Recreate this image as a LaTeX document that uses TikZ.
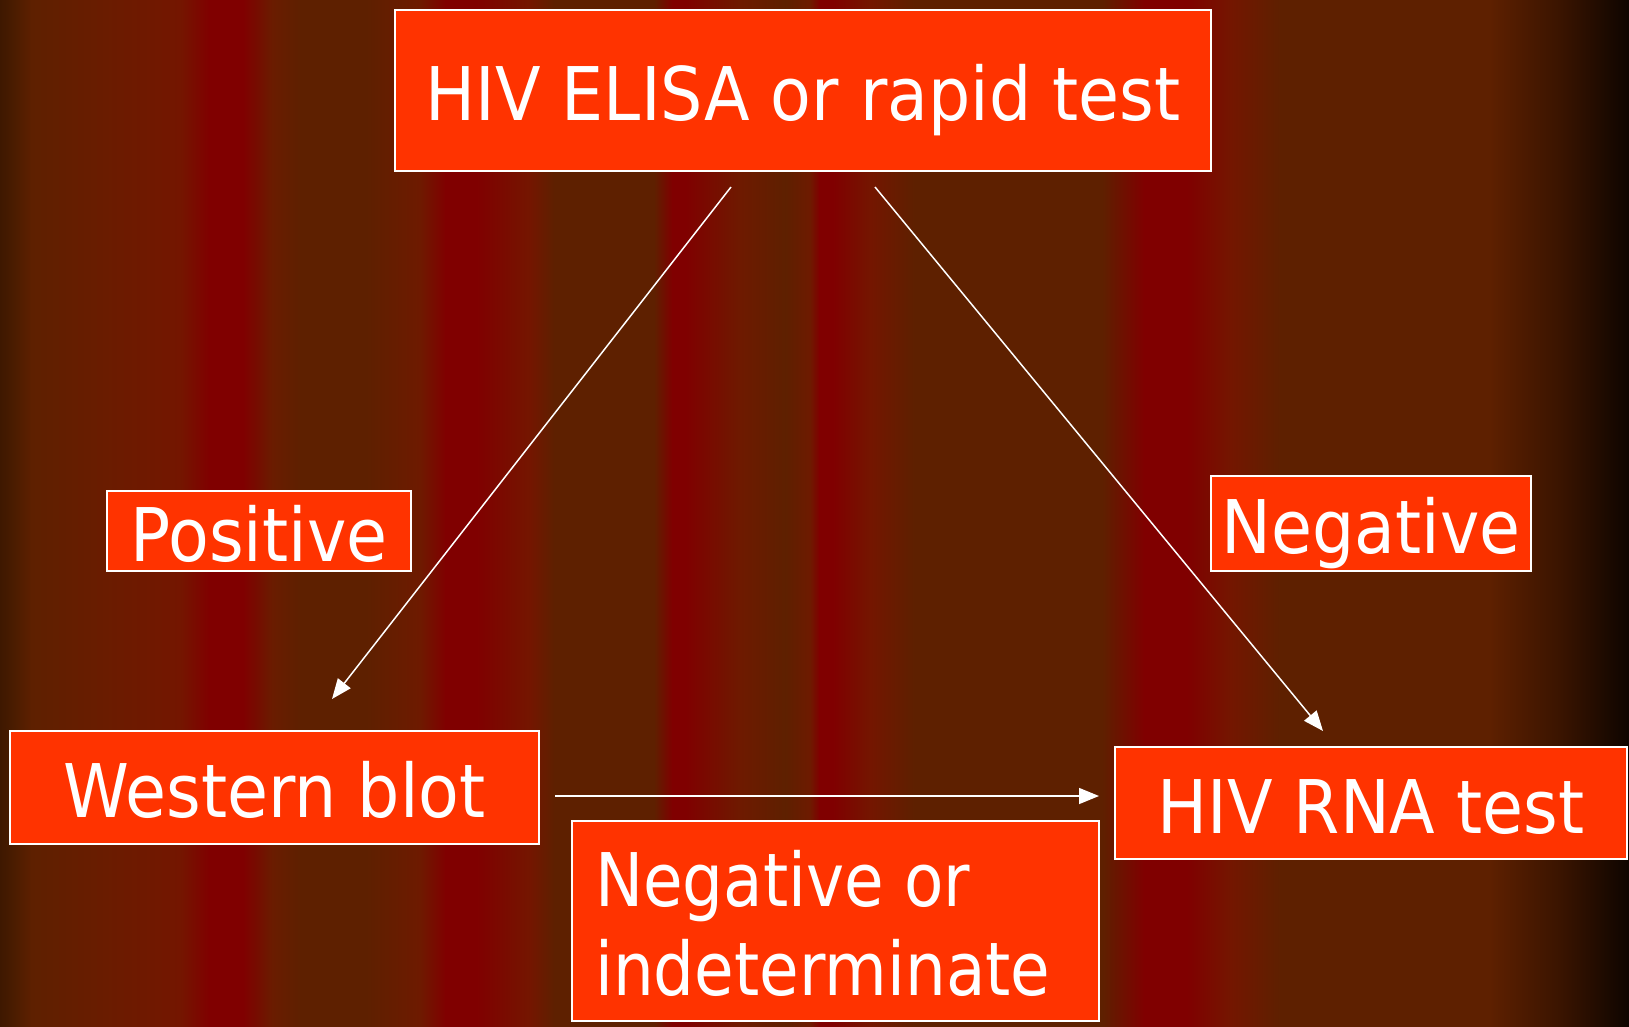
\documentclass[tikz,border=0pt]{standalone}
\usepackage{fontspec}
\setmainfont{DejaVu Sans}[FakeStretch=0.9]
\usetikzlibrary{arrows.meta}
\definecolor{bx}{HTML}{FF3300}
\definecolor{k0}{HTML}{3E1800}
\definecolor{k1}{HTML}{4A1C00}
\definecolor{dk}{HTML}{5E2000}
\definecolor{md}{HTML}{6A1C00}
\definecolor{mr}{HTML}{6E1A00}
\definecolor{rb}{HTML}{741600}
\definecolor{rd}{HTML}{800000}
\definecolor{e1}{HTML}{3A1400}
\definecolor{e2}{HTML}{0E0500}
\newcommand\band[4]{\shade[left color=#2, right color=#4] (#1,0) rectangle (#3+0.6,1027);}
\begin{document}
\begin{tikzpicture}[x=1pt,y=-1pt,
  box/.style={draw=white, line width=1.4pt, fill=bx, text=white, inner sep=0pt,
    font=\fontsize{74}{89.7}\selectfont, text height=60pt, text depth=0pt},
  lbl/.style={text=white, inner sep=0pt, font=\fontsize{74}{89.7}\selectfont},
  arr/.style={draw=white, line width=1.5pt, -{Triangle[length=20pt,width=16pt]}}]
\useasboundingbox (0,0) rectangle (1629,1027);
% background stripes
\band{0}{k0}{13}{k1}
\band{13}{k1}{31}{dk}
\band{31}{dk}{105}{md}
\band{105}{md}{180}{rb}
\band{180}{rb}{209}{rd}
\band{209}{rd}{243}{rd}
\band{243}{rd}{272}{md}
\band{272}{md}{300}{dk}
\band{300}{dk}{366}{dk}
\band{366}{dk}{420}{mr}
\band{420}{mr}{445}{rd}
\band{445}{rd}{476}{rd}
\band{476}{rd}{530}{rb}
\band{530}{rb}{554}{dk}
\band{554}{dk}{654}{dk}
\band{654}{dk}{672}{rd}
\band{672}{rd}{685}{rd}
\band{685}{rd}{740}{mr}
\band{740}{mr}{785}{dk}
\band{785}{dk}{810}{mr}
\band{810}{mr}{819}{rd}
\band{819}{rd}{833}{rd}
\band{833}{rd}{870}{rb}
\band{870}{rb}{914}{dk}
\band{914}{dk}{1102}{dk}
\band{1102}{dk}{1144}{rd}
\band{1144}{rd}{1186}{rd}
\band{1186}{rd}{1230}{rb}
\band{1230}{rb}{1280}{dk}
\band{1280}{dk}{1489}{dk}
\band{1489}{dk}{1560}{e1}
\band{1560}{e1}{1628.4}{e2}
% boxes
\node[box, minimum width=816pt, minimum height=161pt] (top) at (803,90.5) {HIV ELISA or rapid test};
\node[box, minimum width=304pt, minimum height=80pt] (pos) at (259,531) {Positive};
\node[box, minimum width=320pt, minimum height=95pt] (neg) at (1371,523.5) {Negative};
\node[box, minimum width=529pt, minimum height=113pt] (wb) at (274.5,787.5) {Western blot};
\node[box, minimum width=512pt, minimum height=112pt] (rna) at (1371,803) {HIV RNA test};
\node[box, minimum width=527pt, minimum height=200pt] (ni) at (835.5,921) {};
\node[lbl, anchor=base west, align=left] (nit) at (595,995.7) {\addfontfeatures{FakeStretch=0.87}Negative or\\\addfontfeatures{FakeStretch=0.87}indeterminate};
% connector ends
\coordinate (a1) at (731,187);
\coordinate (a2) at (332,699);
\coordinate (b1) at (875,187);
\coordinate (b2) at (1323,731);
\coordinate (c1) at (555,796);
\coordinate (c2) at (1099,796);
\draw[arr] (a1) -- (a2);
\draw[arr] (b1) -- (b2);
\draw[arr] (c1) -- (c2);
\end{tikzpicture}
\end{document}
